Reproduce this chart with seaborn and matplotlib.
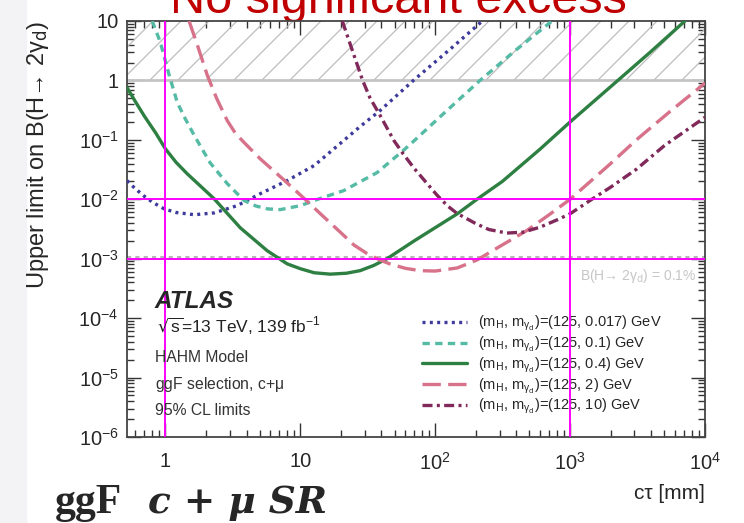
import numpy as np
import pandas as pd
import seaborn as sns
import matplotlib.pyplot as plt
from matplotlib.collections import LineCollection
from matplotlib.patches import Rectangle
from matplotlib.ticker import LogLocator, FuncFormatter, NullFormatter

sns.set_style("ticks")
plt.rcParams["font.family"] = ["Liberation Sans", "DejaVu Sans"]
plt.rcParams["mathtext.default"] = "regular"

# curve values (ct in mm, upper limit on B)
ct_017 = [0.52, 0.6, 0.736, 0.85, 0.98, 1.2, 1.64, 2.3, 3.4, 5.05, 8, 12.7, 19.8, 28, 39, 69, 130, 224]
lim_017 = [0.0206, 0.015, 0.0102, 0.0083, 0.0069, 0.006, 0.0055, 0.0059, 0.0078, 0.0124, 0.0206,
           0.037, 0.087, 0.17, 0.31, 1.0, 3.4, 10]

ct_01 = [0.8, 0.918, 1.07, 1.227, 1.4, 1.64, 2.15, 2.88, 3.84, 4.7, 5.7, 7.1, 10, 14, 21, 37, 58,
         70, 120, 215, 400, 735]
lim_01 = [10, 4.4, 1.21, 0.425, 0.23, 0.118, 0.041, 0.0183, 0.0095, 0.0077, 0.0069, 0.0067, 0.0078,
          0.0103, 0.014, 0.028, 0.066, 0.097, 0.3, 1.0, 3.3, 10]

ct_04 = [0.52, 0.6, 0.7, 0.85, 1, 1.2, 1.45, 2.3, 3.6, 5.7, 8, 10, 12.7, 16.7, 22, 27.8, 35, 44, 70,
         146, 204, 315, 600, 1000, 2260, 4000, 7100]
lim_04 = [0.76, 0.44, 0.25, 0.13, 0.071, 0.042, 0.027, 0.0102, 0.0033, 0.00136, 0.00082, 0.00068,
          0.00058, 0.00055, 0.00057, 0.00063, 0.00077, 0.001, 0.002, 0.0057, 0.01, 0.02, 0.07, 0.2,
          1.0, 3.1, 10]

ct_2 = [1.5, 1.73, 2.05, 2.4, 2.88, 3.3, 3.84, 5.05, 7.6, 11.3, 14, 19.8, 25, 31.3, 39, 46, 60, 77,
        100, 146, 204, 300, 480, 700, 1000, 2000, 3100, 5500, 10000]
lim_2 = [10, 3.9, 1.21, 0.5, 0.21, 0.13, 0.09, 0.048, 0.021, 0.0092, 0.0058, 0.0028, 0.0017, 0.00122,
         0.00095, 0.00082, 0.00069, 0.00063, 0.00062, 0.0007, 0.00095, 0.0016, 0.003, 0.0055, 0.01,
         0.04, 0.1, 0.3, 0.9]

ct_10 = [20.5, 24, 29, 33, 39, 49.5, 58, 70, 87, 103, 123, 145, 200, 250, 340, 450, 600, 800, 1000,
         1450, 2000, 3100, 5000, 10000]
lim_10 = [10, 3.5, 1.0, 0.5, 0.26, 0.097, 0.058, 0.033, 0.0185, 0.0118, 0.0078, 0.0058, 0.0039,
          0.0031, 0.0027, 0.0028, 0.0034, 0.0045, 0.0057, 0.01, 0.016, 0.032, 0.08, 0.24]

masses = ["0.017", "0.1", "0.4", "2", "10"]
colors = ["#3d3b9b", "#55bba5", "#2e7f42", "#d7728a", "#80295a"]
styles = [(0, (0.9, 1.3)), (0, (2.2, 1.6)), "-", (0, (5.5, 2.2)), (0, (3.0, 1.3, 0.9, 1.3))]

series = [(ct_017, lim_017), (ct_01, lim_01), (ct_04, lim_04), (ct_2, lim_2), (ct_10, lim_10)]

fig = plt.figure(figsize=(7.44, 5.23), dpi=100)
fig.patches.append(Rectangle((0, 0), 26 / 744, 1, transform=fig.transFigure,
                             color="#f3f3f5", zorder=-5))
ax = fig.add_axes([127 / 744, 1 - 437 / 523, 578 / 744, 416 / 523])
ax.set_xscale("log")
ax.set_yscale("log")
xmin, xmax, ymin, ymax = 0.52, 1e4, 1e-6, 10
ax.set_xlim(xmin, xmax)
ax.set_ylim(ymin, ymax)

# excluded region B > 1, hatched
y0 = (0 - np.log10(ymin)) / (np.log10(ymax) - np.log10(ymin))
W, H = 578, 416
segs = []
for u in np.arange(-0.3, 1.05, 28 / W):
    segs.append([(u, y0), (u + (1 - y0) * H / W, 1)])
ax.add_collection(LineCollection(segs, colors="#bdbdbd", linewidths=0.9,
                                 transform=ax.transAxes, zorder=1))
ax.axhline(1, color="#c4c4c4", lw=2, zorder=1.5)
ax.axhline(1.07e-3, color="#b5b5b5", lw=1.5, ls=(0, (2, 2)), zorder=1.5)

for (x, y), m, c, ls in zip(series, masses, colors, styles):
    df = pd.DataFrame({"ct": x, "limit": y})
    lab = r"(m$_{\rm H}$, m$_{\gamma_{\rm d}}$)=(125, " + m + ") GeV"
    sns.lineplot(data=df, x="ct", y="limit", color=c, linestyle=ls, lw=2.4,
                 label=lab, ax=ax, zorder=3)

ax.text(0.985, 7.3e-4, "B(H\u2192 2$\\gamma_{\\rm d}$) = 0.1%", color="#c6c6c6",
        fontsize=10, ha="right", va="top", transform=ax.get_yaxis_transform())

# hand-drawn magenta guide lines
for xv in [1, 1000]:
    ax.axvline(xv, color="#ff00ff", lw=1.4, zorder=6)
for yv in [1e-2, 1e-3]:
    ax.axhline(yv, color="#ff00ff", lw=1.4, zorder=6)

def fmt(v, pos):
    e = int(round(np.log10(v)))
    if e == 0:
        return "1"
    if e == 1:
        return "10"
    return r"$10^{%d}$" % e

ax.xaxis.set_major_locator(LogLocator(base=10, numticks=20))
ax.xaxis.set_minor_locator(LogLocator(base=10, subs=np.arange(2, 10), numticks=20))
ax.yaxis.set_major_locator(LogLocator(base=10, numticks=20))
ax.yaxis.set_minor_locator(LogLocator(base=10, subs=np.arange(2, 10), numticks=20))
ax.xaxis.set_major_formatter(FuncFormatter(fmt))
ax.yaxis.set_major_formatter(FuncFormatter(fmt))
ax.xaxis.set_minor_formatter(NullFormatter())
ax.yaxis.set_minor_formatter(NullFormatter())
ax.tick_params(which="both", direction="in", top=True, right=True, labelsize=14.5,
               color="#333333", width=1.0)
ax.tick_params(which="major", length=10)
ax.tick_params(axis="x", which="major", pad=11)
ax.tick_params(axis="y", which="major", pad=6)
ax.tick_params(which="minor", length=5)
for s in ax.spines.values():
    s.set_color("#444444")
    s.set_linewidth(1.3)

ax.set_xlabel("c\u03c4 [mm]", fontsize=15, loc="right", labelpad=7)
ax.set_ylabel("Upper limit on B(H\u2192 2$\\gamma_{\\rm d}$)", fontsize=17, loc="top")
ax.yaxis.set_label_coords((51 - 127) / 578, 1.0)

leg = ax.legend(loc="upper left", bbox_to_anchor=(409 / 744, 1 - 301 / 523),
                bbox_transform=fig.transFigure, frameon=False, fontsize=10.5,
                handlelength=3.1, handletextpad=0.75, labelspacing=0.1)

fig.text(155 / 744, 1 - 308 / 523, "ATLAS", fontsize=17.5, fontweight="bold",
         fontstyle="italic", va="baseline")
fig.text(157 / 744, 1 - 333 / 523, r"$\sqrt{s}$=13 TeV, 139 fb$^{-1}$", fontsize=12.5,
         va="baseline", color="#222222")
fig.text(155 / 744, 1 - 362 / 523, "HAHM Model", fontsize=11.3, va="baseline", color="#333333")
fig.text(155 / 744, 1 - 389 / 523, r"ggF selection, c+$\mu$", fontsize=11.3, va="baseline",
         color="#333333")
fig.text(155 / 744, 1 - 415 / 523, "95% CL limits", fontsize=11.3, va="baseline", color="#333333")

fig.text(398 / 744, 1 - 13 / 523, "No significant excess", fontsize=35, color="#c00000",
         ha="center", va="baseline", zorder=-1)
fig.text(55 / 744, 1 - 513 / 523, "ggF", fontsize=30, fontweight="bold",
         family="Liberation Serif", va="baseline")
fig.text(148 / 744, 1 - 513 / 523, "c + \u03bc SR", fontsize=27, fontweight="bold",
         fontstyle="italic", family="DejaVu Serif", va="baseline")

fig.savefig("out.png", dpi=100)
